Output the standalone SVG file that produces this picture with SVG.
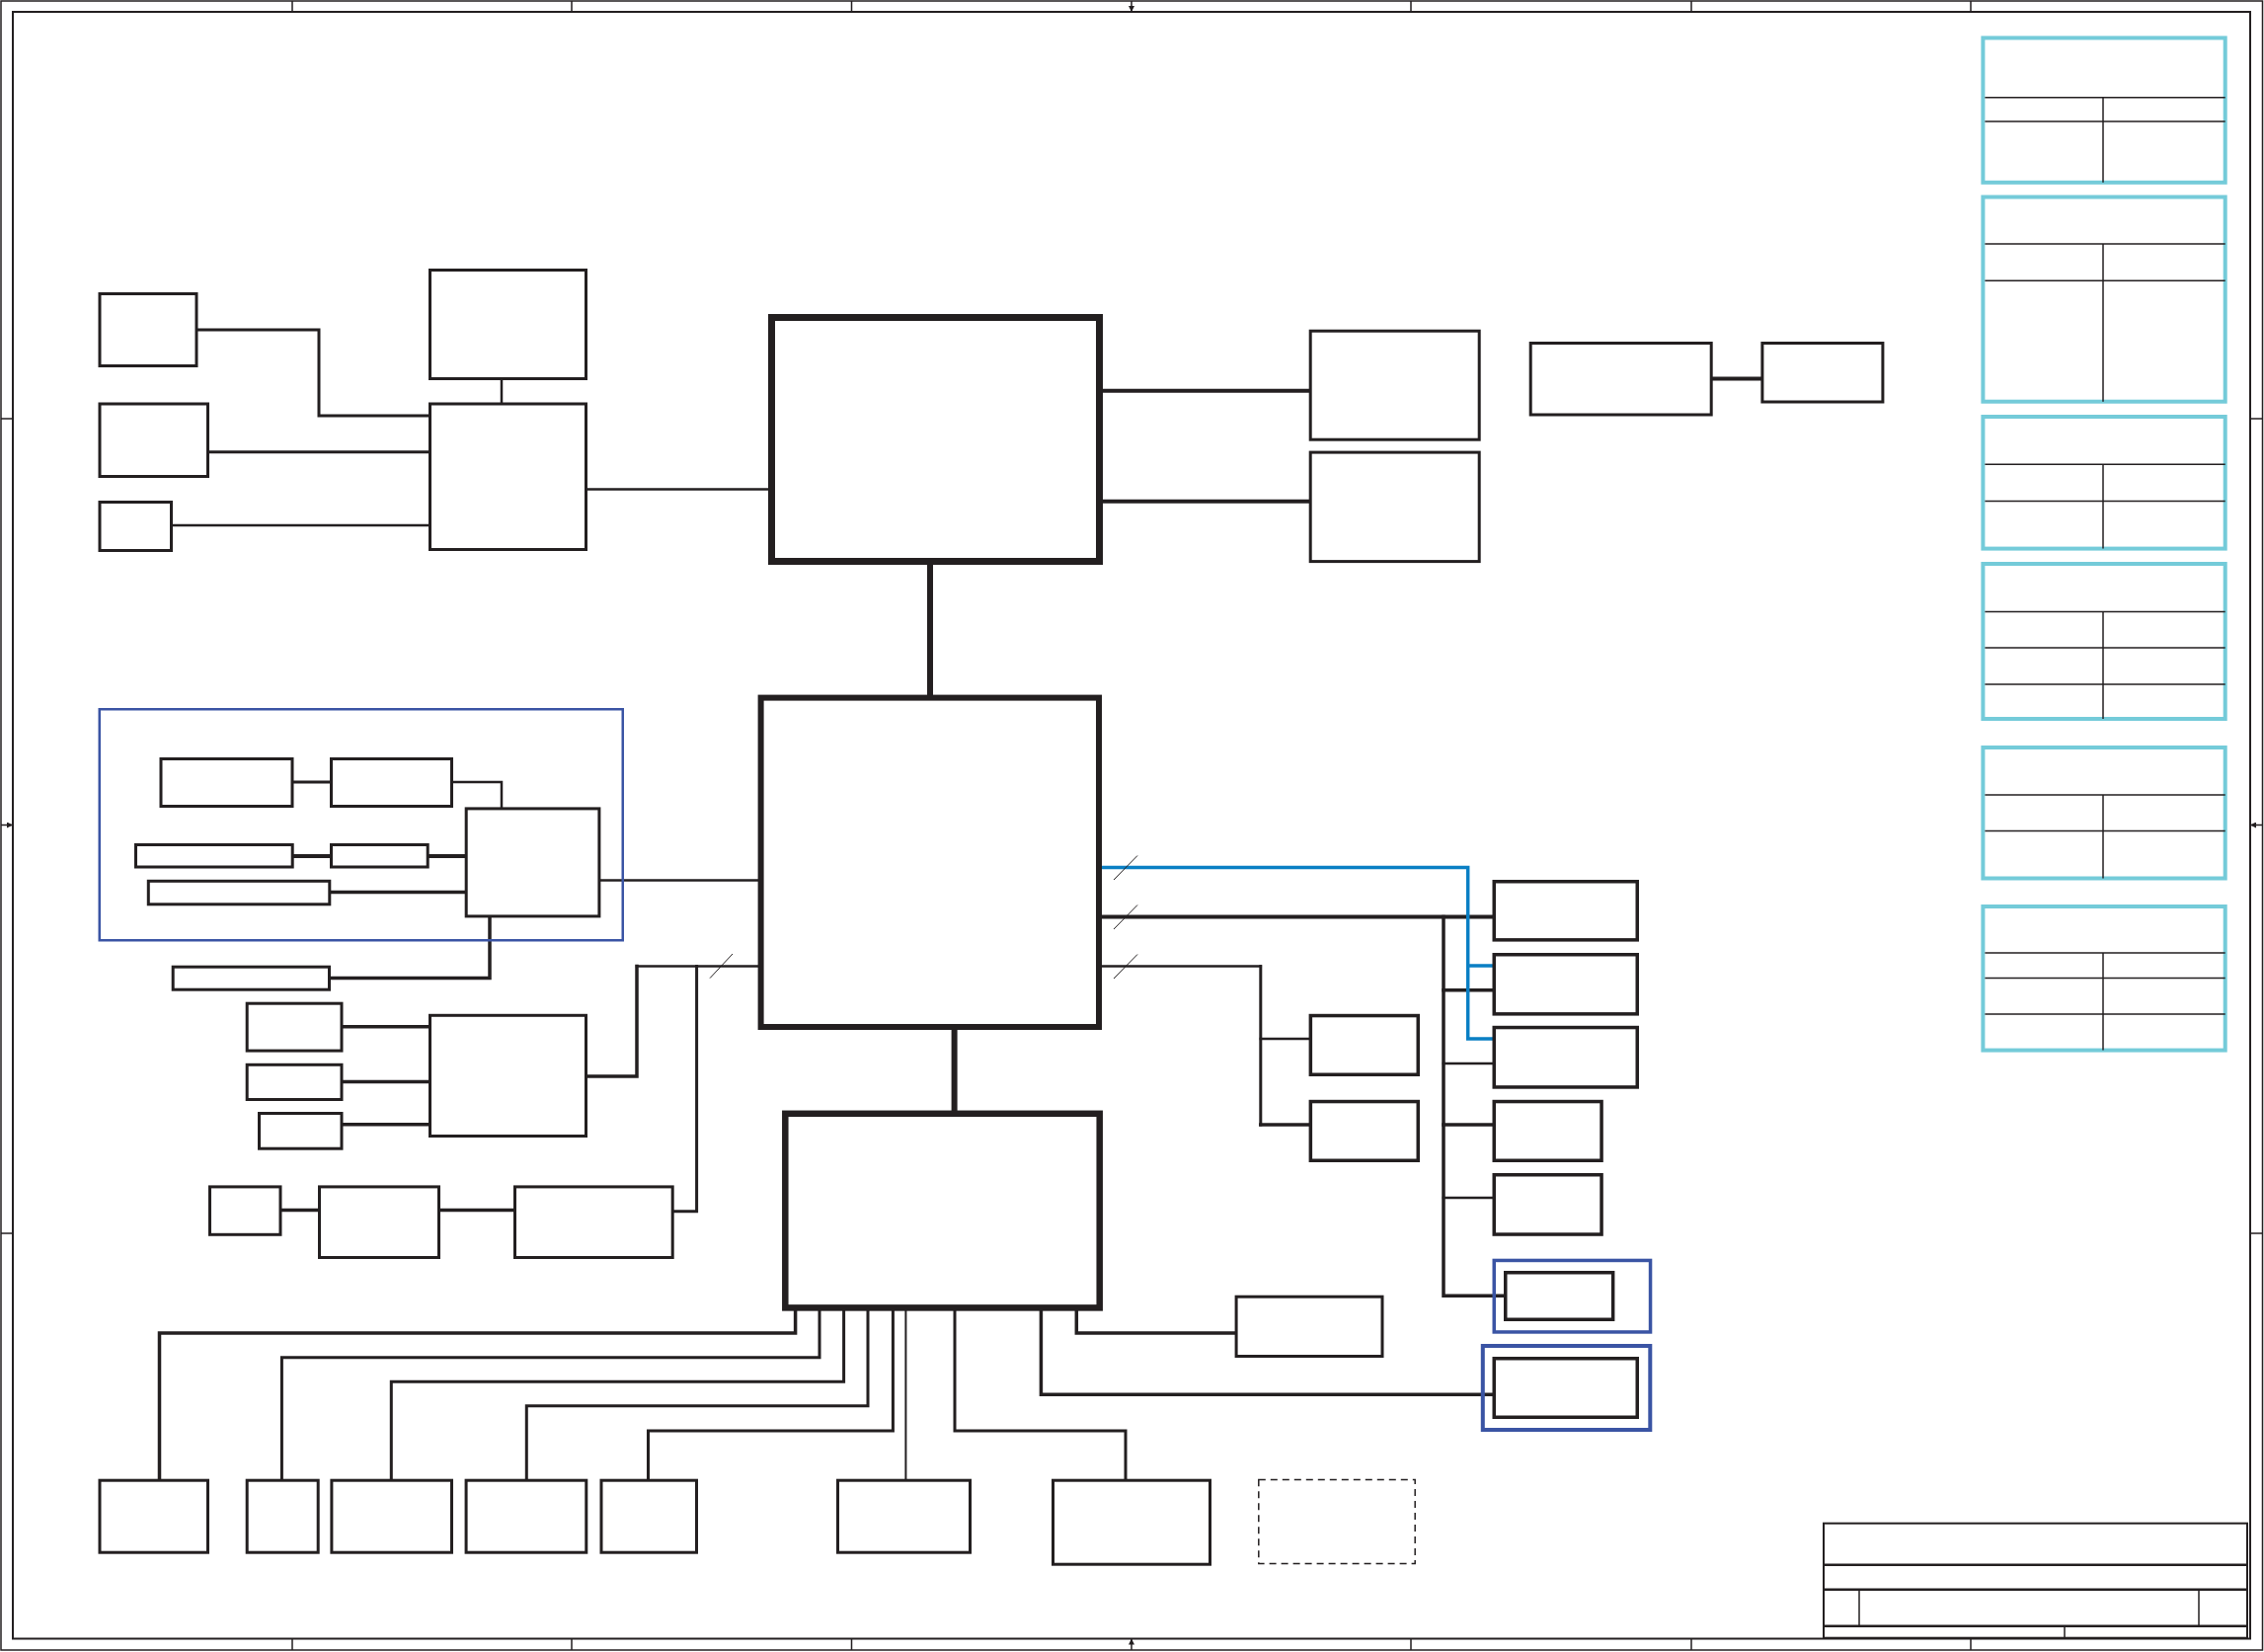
<svg xmlns="http://www.w3.org/2000/svg" width="2293" height="1673" viewBox="0 0 2293 1673">
<defs>
<style>
.bx{fill:#fff;stroke:#231f20;stroke-width:3}
.bx35{fill:#fff;stroke:#231f20;stroke-width:3.5}
.chip{fill:#fff;stroke:#231f20}
.cy{fill:#fff;stroke:#74cbd9;stroke-width:4}
.grp{fill:none;stroke:#3a54a4}
.dash{fill:none;stroke:#231f20;stroke-width:1.5;stroke-dasharray:7 5}
.ln{fill:none;stroke:#231f20;stroke-linejoin:miter;stroke-linecap:square}
.tl{fill:none;stroke:#231f20;stroke-width:1.5}
.blue{fill:none;stroke:#0a7fc4;stroke-width:3.5;stroke-linecap:square}
.sl{stroke:#231f20;stroke-width:1}
.fr{fill:none;stroke:#231f20}
</style>
<marker id="ah" markerWidth="6" markerHeight="6" refX="6" refY="3" orient="auto" markerUnits="userSpaceOnUse"><path d="M0,0 L6,3 L0,6 Z" fill="#231f20"/></marker>
</defs>
<rect x="0" y="0" width="2293" height="1673" fill="#fff"/>

<g id="frame">
<rect class="fr" x="1" y="1" width="2290.5" height="1670" stroke-width="1.5"/>
<rect class="fr" x="13" y="12" width="2266" height="1647.5" stroke-width="2"/>
<path class="fr" stroke-width="1.5" d="M296,1V12M579,1V12M862.5,1V12M1429,1V12M1713,1V12M1996,1V12M296,1659.5V1671M579,1659.5V1671M862.5,1659.5V1671M1429,1659.5V1671M1713,1659.5V1671M1996,1659.5V1671M1,424H13M1,1249H13M2279,424H2292M2279,1249H2292"/>
<line class="fr" stroke-width="1.5" x1="1146" y1="1" x2="1146" y2="12" marker-end="url(#ah)"/>
<line class="fr" stroke-width="1.5" x1="1146" y1="1671" x2="1146" y2="1659.5" marker-end="url(#ah)"/>
<line class="fr" stroke-width="1.5" x1="1" y1="835.5" x2="13" y2="835.5" marker-end="url(#ah)"/>
<line class="fr" stroke-width="1.5" x1="2292" y1="835.5" x2="2279" y2="835.5" marker-end="url(#ah)"/>
</g>

<g id="connectors">
<path class="ln" stroke-width="3" d="M200.5,334H323V421H434"/>
<path class="ln" stroke-width="3" d="M212,457.7H434"/>
<path class="ln" stroke-width="2.5" d="M175,532H434"/>
<path class="ln" stroke-width="2.5" d="M508,385V407.5"/>
<path class="ln" stroke-width="2.5" d="M595,495.6H778"/>
<path class="ln" stroke-width="4" d="M1117,395.7H1325.7"/>
<path class="ln" stroke-width="4" d="M1117,507.8H1325.7"/>
<path class="ln" stroke-width="4" d="M1734.5,383.5H1783.4"/>
<path class="ln" stroke-width="6" d="M942,572V703.6"/>
<path class="ln" stroke-width="3" d="M297.7,792H334"/>
<path class="ln" stroke-width="2.5" d="M459,792H508V817.4"/>
<path class="ln" stroke-width="4" d="M297.7,867H334"/>
<path class="ln" stroke-width="4" d="M434.7,867H470.7"/>
<path class="ln" stroke-width="3.5" d="M335,903.6H470.7"/>
<path class="ln" stroke-width="2.5" d="M608.4,891.5H767.6"/>
<path class="ln" stroke-width="3.5" d="M496,929.5V990.6H335"/>
<path class="ln" stroke-width="2.5" d="M767.6,978.6H645"/>
<path class="ln" stroke-width="3.5" d="M645,978.6V1090H595"/>
<path class="ln" stroke-width="3" d="M705.6,978.6V1226.8H682.7"/>
<path class="ln" stroke-width="3.5" d="M347.5,1039.7H434M347.5,1095.5H434M347.5,1138.8H434"/>
<path class="ln" stroke-width="3.5" d="M285.5,1225.4H322M446,1225.4H520"/>
<path class="ln" stroke-width="6" d="M966.6,1043V1124.5"/>
<path class="ln" stroke-width="4" d="M1116,928.6H1511.5"/>
<path class="ln" stroke-width="3.5" d="M1462,928.6V1312.3H1523"/>
<path class="ln" stroke-width="3.5" d="M1462,1002.7H1511.5M1462,1139H1511.5"/>
<path class="ln" stroke-width="2.5" d="M1462,1077H1511.5M1462,1213H1511.5"/>
<path class="ln" stroke-width="2.5" d="M1116,978.6H1276.8"/>
<path class="ln" stroke-width="3" d="M1276.8,978.6V1139"/>
<path class="ln" stroke-width="3.5" d="M1276.8,1139H1325.6"/>
<path class="ln" stroke-width="2.5" d="M1276.8,1052H1325.6"/>
<path class="blue" d="M1116,878.6H1486.7V1052H1511.5M1486.7,978H1511.5"/>
<path class="sl" d="M1128,891L1152,866.5M1128,941L1152,916.5M1128,991L1152,966.5M719,990.6L742,966"/>
<path class="ln" stroke-width="3.5" d="M805.6,1327.7V1350H161.5V1497.7"/>
<path class="ln" stroke-width="3" d="M830,1327.7V1374.7H285.4V1497.7"/>
<path class="ln" stroke-width="3" d="M854.6,1327.7V1399.3H396.3V1497.7"/>
<path class="ln" stroke-width="3" d="M879,1327.7V1423.7H533.3V1497.7"/>
<path class="ln" stroke-width="3" d="M904.4,1327.7V1449H656.5V1497.7"/>
<path class="ln" stroke-width="2" d="M917.4,1327.7V1497.7"/>
<path class="ln" stroke-width="3" d="M967,1327.7V1449H1140V1497.7"/>
<path class="ln" stroke-width="3.5" d="M1054.4,1327.7V1412.3H1511.5"/>
<path class="ln" stroke-width="3.5" d="M1090.3,1327.7V1350H1250.6"/>
</g>

<g id="n-a"><rect class="bx" x="101" y="297.5" width="98" height="73"/></g>
<g id="n-b"><rect class="bx" x="101" y="409" width="109.5" height="73.5"/></g>
<g id="n-c"><rect class="bx" x="101" y="508.5" width="72.5" height="49"/></g>
<g id="n-d"><rect class="bx" x="435.5" y="273.5" width="158" height="110"/></g>
<g id="n-e"><rect class="bx" x="435.5" y="409" width="158" height="147.5"/></g>
<g id="n-cpu"><rect class="chip" stroke-width="7" x="781.5" y="321.5" width="332" height="247"/></g>
<g id="n-p1"><rect class="bx" x="1327.2" y="335.2" width="171" height="110"/></g>
<g id="n-p2"><rect class="bx" x="1327.2" y="458.1" width="171" height="110.5"/></g>
<g id="n-q1"><rect class="bx" x="1550.2" y="347.5" width="183" height="72.5"/></g>
<g id="n-q2"><rect class="bx" x="1784.9" y="347.5" width="122" height="59.5"/></g>

<g id="legend1"><rect class="cy" x="2008.4" y="38.4" width="245.3" height="146.4"/><path class="tl" stroke-width="2.5" d="M2010.4,98.7H2253.7"/><path class="tl" d="M2010.4,123H2253.7M2130,98.7V184.8"/></g>
<g id="legend2"><rect class="cy" x="2008.4" y="199.5" width="245.3" height="207.2"/><path class="tl" d="M2010.4,247H2253.7M2010.4,284.3H2253.7M2130,247V406.7"/></g>
<g id="legend3"><rect class="cy" x="2008.4" y="422" width="245.3" height="133.6"/><path class="tl" d="M2010.4,470.3H2253.7M2010.4,507.5H2253.7M2130,470.3V555.6"/></g>
<g id="legend4"><rect class="cy" x="2008.4" y="571" width="245.3" height="157"/><path class="tl" d="M2010.4,619.6H2253.7M2010.4,656H2253.7M2010.4,693H2253.7M2130,619.6V728"/></g>
<g id="legend5"><rect class="cy" x="2008.4" y="757" width="245.3" height="132.5"/><path class="tl" d="M2010.4,805H2253.7M2010.4,841.5H2253.7M2130,805V889.5"/></g>
<g id="legend6"><rect class="cy" x="2008.4" y="918" width="245.3" height="145.6"/><path class="tl" d="M2010.4,965H2253.7M2010.4,990.6H2253.7M2010.4,1027H2253.7M2130,965V1063.6"/></g>

<g id="grp-left"><rect class="grp" stroke-width="2.5" x="100.75" y="718.25" width="530" height="234"/></g>
<g id="n-i1"><rect class="bx" x="163" y="768.5" width="133" height="48"/></g>
<g id="n-i2"><rect class="bx" x="335.5" y="768.5" width="122" height="48"/></g>
<g id="n-ihub"><rect class="bx" x="472.2" y="818.9" width="134.7" height="109"/></g>
<g id="n-i3"><rect class="bx" x="137.5" y="855.5" width="158.7" height="22.5"/></g>
<g id="n-i4"><rect class="bx" x="335.5" y="855.5" width="97.7" height="22.5"/></g>
<g id="n-i5"><rect class="bx" stroke-width="2.5" x="150.3" y="892.3" width="183.5" height="23.5"/></g>
<g id="n-i6"><rect class="bx" x="175.2" y="979.2" width="158.3" height="23"/></g>

<g id="n-pch"><rect class="chip" stroke-width="6" x="770.6" y="706.6" width="342.4" height="333.4"/></g>
<g id="n-f"><rect class="bx" x="435.5" y="1028.3" width="158" height="122.2"/></g>
<g id="n-g1"><rect class="bx" x="250.2" y="1016.2" width="95.8" height="47.9"/></g>
<g id="n-g2"><rect class="bx" x="250.2" y="1078.3" width="95.8" height="35.2"/></g>
<g id="n-g3"><rect class="bx" x="262.5" y="1127.5" width="83.5" height="35.7"/></g>
<g id="n-h1"><rect class="bx" x="212.5" y="1201.9" width="71.5" height="48.4"/></g>
<g id="n-h2"><rect class="bx" x="323.5" y="1201.9" width="121" height="71.6"/></g>
<g id="n-h3"><rect class="bx" x="521.5" y="1201.9" width="159.7" height="71.6"/></g>
<g id="n-ec"><rect class="chip" stroke-width="6.5" x="795.3" y="1127.8" width="318.4" height="196.6"/></g>

<g id="n-j1"><rect class="bx35" x="1513.25" y="892.75" width="145" height="59.1"/></g>
<g id="n-j2"><rect class="bx35" x="1513.25" y="966.75" width="145" height="60.1"/></g>
<g id="n-j3"><rect class="bx35" x="1513.25" y="1040.55" width="145" height="60.4"/></g>
<g id="n-j4"><rect class="bx35" x="1513.25" y="1115.55" width="108.8" height="59.7"/></g>
<g id="n-j5"><rect class="bx35" x="1513.25" y="1189.75" width="108.8" height="60.3"/></g>
<g id="n-k1"><rect class="bx35" x="1327.35" y="1028.55" width="108.9" height="59.7"/></g>
<g id="n-k2"><rect class="bx35" x="1327.35" y="1115.55" width="108.9" height="59.7"/></g>

<g id="grp-r1"><rect class="grp" stroke-width="3.5" x="1513.25" y="1276.45" width="158.3" height="72.5"/><rect class="bx35" x="1524.75" y="1288.75" width="108.9" height="47.5"/></g>
<g id="grp-r2"><rect class="grp" stroke-width="4" x="1501.8" y="1363" width="169.5" height="85"/><rect class="bx35" x="1513.25" y="1375.75" width="145" height="59.5"/></g>
<g id="n-n"><rect class="bx" x="1252.1" y="1313.2" width="147.9" height="60.3"/></g>

<g id="n-m1"><rect class="bx" x="101" y="1499.2" width="109.5" height="73"/></g>
<g id="n-m2"><rect class="bx" x="250.2" y="1499.2" width="72" height="73"/></g>
<g id="n-m3"><rect class="bx" x="335.9" y="1499.2" width="121.6" height="73"/></g>
<g id="n-m4"><rect class="bx" x="472.1" y="1499.2" width="121.7" height="73"/></g>
<g id="n-m5"><rect class="bx" x="609" y="1499.2" width="96.5" height="73"/></g>
<g id="n-m6"><rect class="bx" x="848.5" y="1499.2" width="134" height="73"/></g>
<g id="n-m7"><rect class="bx" x="1066.5" y="1499.2" width="159" height="85"/></g>
<g id="n-dash"><rect class="dash" x="1274.8" y="1498.5" width="158.4" height="85"/></g>

<g id="titleblock">
<rect class="fr" stroke-width="2" x="1847" y="1542.7" width="1429" height="116" fill="none" style="display:none"/>
<rect class="fr" stroke-width="2" x="1847" y="1542.7" width="429" height="116"/>
<path class="fr" stroke-width="2.5" d="M1847,1584.7H2276M1847,1609.7H2276M1847,1646.7H2276"/>
<path class="fr" stroke-width="1.5" d="M1883,1609.7V1646.7M2227,1609.7V1646.7M2091,1646.7V1659.3"/>
</g>
</svg>
